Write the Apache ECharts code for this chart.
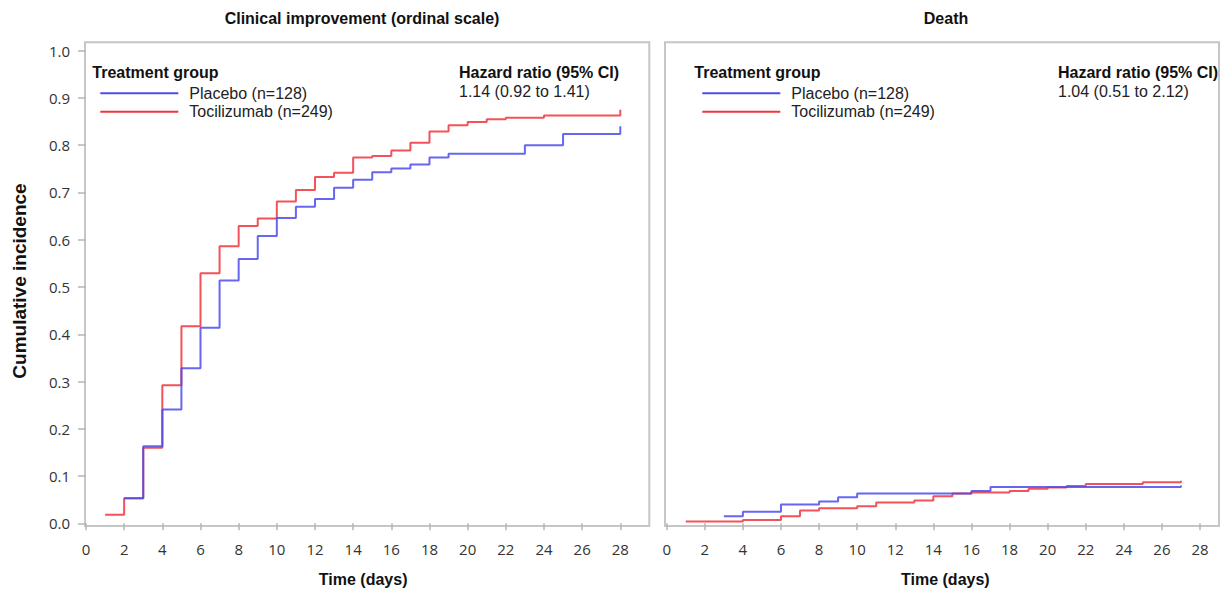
<!DOCTYPE html>
<html>
<head>
<meta charset="utf-8">
<script src="https://cdn.jsdelivr.net/npm/echarts@6/dist/echarts.min.js"></script>
<style>
html,body{margin:0;padding:0;background:#fff;}
#chart{width:1221px;height:593px;}
</style>
</head>
<body>
<div id="chart"></div>
<script>
// ---- data ----
const xTicks = [0,2,4,6,8,10,12,14,16,18,20,22,24,26,28];
const yTicks = [0,0.1,0.2,0.3,0.4,0.5,0.6,0.7,0.8,0.9,1.0];

const groupNames = ['Placebo (n=128)', 'Tocilizumab (n=249)'];

// Clinical improvement (ordinal scale)
const clinPlaceboDays = [2,3,4,5,6,7,8,9,10,11,12,13,14,15,16,17,18,19,23,25,28,28];
const clinPlaceboVals = [0.053,0.163,0.241,0.328,0.414,0.514,0.559,0.608,0.646,0.670,0.686,0.710,0.727,0.743,0.751,0.759,0.774,0.782,0.800,0.824,0.824,0.840];
const clinTociDays = [1,2,3,4,5,6,7,8,9,10,11,12,13,14,15,16,17,18,19,20,21,22,24,28,28];
const clinTociVals = [0.018,0.053,0.160,0.292,0.417,0.529,0.586,0.629,0.645,0.681,0.705,0.733,0.742,0.774,0.777,0.789,0.805,0.829,0.842,0.849,0.855,0.858,0.863,0.863,0.875];

// Death
const deathPlaceboDays = [3,4,6,8,9,10,16,17,27,27];
const deathPlaceboVals = [0.015,0.0245,0.040,0.046,0.055,0.063,0.0685,0.077,0.077,0.080];
const deathTociDays = [1,4,6,7,8,10,11,13,14,15,16,18,19,20,21,22,25,27,27];
const deathTociVals = [0.004,0.007,0.015,0.027,0.032,0.036,0.044,0.048,0.057,0.063,0.065,0.0685,0.073,0.0755,0.079,0.083,0.087,0.087,0.090];

const panelTitles = ['Clinical improvement (ordinal scale)', 'Death'];
const hazardHeader = 'Hazard ratio (95% CI)';
const hazardValues = ['1.14 (0.92 to 1.41)', '1.04 (0.51 to 2.12)'];
const legendHeader = 'Treatment group';
const xName = 'Time (days)';
const yName = 'Cumulative incidence';

// ---- styles ----
const BLUE = '#4b4bee';
const RED = '#f0343c';
const FRAME = '#c6c6c6';
const SANS = '"Liberation Sans", Arial, sans-serif';
const TICKFONT = '"Open Sans", "DejaVu Sans", sans-serif';

function pairs(xs, ys){ return xs.map((x,i)=>[x, ys[i]]); }

const chart = echarts.init(document.getElementById('chart'), null, {renderer:'svg'});

function xAxisFor(gi, shift){
  return {
    type:'value', gridIndex:gi, min:xTicks[0], max:xTicks[xTicks.length-1], interval:2,
    offset:2.7,
    axisLine:{show:false},
    axisTick:{show:true, length:7, lineStyle:{color:'#b4b4b4', width:1.5}},
    axisLabel:{fontFamily:TICKFONT, fontSize:15, color:'#333', margin:15},
    splitLine:{show:false},
    name:xName, nameLocation:'middle', nameGap:45,
    nameTextStyle:{fontFamily:SANS, fontSize:16, fontWeight:'bold', color:'#111',
                   padding:[0,0,0,shift]}
  };
}

function lineSeries(name, color, xi, yi, data, z){
  return {
    type:'line', name:name, xAxisIndex:xi, yAxisIndex:yi, data:data,
    step:'end', showSymbol:false, symbol:'none', color:color, z:z,
    lineStyle:{color:color, width:2, opacity:0.85},
    emphasis:{disabled:true}, animation:false
  };
}

function legendFor(left){
  return {
    orient:'vertical', left:left, top:85.3, icon:'rect', padding:0,
    itemWidth:78, itemHeight:2, itemGap:2.4,
    textStyle:{fontFamily:SANS, fontSize:16, color:'#222', lineHeight:16, padding:[0,0,0,6]},
    data:groupNames.map(n=>({name:n})),
    selectedMode:false
  };
}

function txt(text, x, y, opts){
  return {
    type:'text', x:x, y:y, silent:true,
    style:Object.assign({
      text:text, fill:'#111',
      font: (opts && opts.bold ? 'bold ' : '') + '16px ' + SANS,
      align:(opts && opts.align) || 'left', verticalAlign:'middle'
    }, opts && opts.extra)
  };
}

const option = {
  animation:false,
  backgroundColor:'#fff',
  grid:[
    {left:86, right:600.7, top:50.7, bottom:69.7},
    {left:666.7, right:21, top:50.7, bottom:69.7}
  ],
  xAxis:[xAxisFor(0, 20), xAxisFor(1, 24)],
  yAxis:[
    {type:'value', gridIndex:0, min:yTicks[0], max:yTicks[yTicks.length-1], interval:0.1,
     offset:1,
     axisLine:{show:false},
     axisTick:{show:true, length:8, lineStyle:{color:'#b4b4b4', width:1.5}},
     axisLabel:{fontFamily:TICKFONT, fontSize:15, color:'#333', margin:15,
                formatter:v=>v.toFixed(1)},
     splitLine:{show:false},
     name:yName, nameLocation:'middle', nameGap:56, nameRotate:90,
     nameTextStyle:{fontFamily:SANS, fontSize:19, fontWeight:'bold', color:'#111',
                    padding:[0,0,0,12]}},
    {type:'value', gridIndex:1, min:yTicks[0], max:yTicks[yTicks.length-1], show:false,
     splitLine:{show:false}}
  ],
  legend:[legendFor(100.3), legendFor(702.3)],
  graphic:[
    {type:'rect', silent:true, z:-1, shape:{x:85, y:42.3, width:564.3, height:483.7},
     style:{fill:null, stroke:FRAME, lineWidth:2}},
    {type:'rect', silent:true, z:-1, shape:{x:665, y:42.3, width:554, height:483.7},
     style:{fill:null, stroke:FRAME, lineWidth:2}},
    txt(panelTitles[0], 362, 18, {bold:true, align:'center'}),
    txt(panelTitles[1], 946, 18, {bold:true, align:'center'}),
    txt(legendHeader, 92.3, 72.5, {bold:true}),
    txt(legendHeader, 694.3, 72.5, {bold:true}),
    txt(hazardHeader, 459, 72.5, {bold:true}),
    txt(hazardHeader, 1058, 72.5, {bold:true}),
    txt(hazardValues[0], 459, 91, {extra:{fill:'#222'}}),
    txt(hazardValues[1], 1058, 91, {extra:{fill:'#222'}})
  ],
  series:[
    lineSeries(groupNames[1], RED, 0, 0, pairs(clinTociDays, clinTociVals), 2),
    lineSeries(groupNames[0], BLUE, 0, 0, pairs(clinPlaceboDays, clinPlaceboVals), 3),
    lineSeries(groupNames[1], RED, 1, 1, pairs(deathTociDays, deathTociVals), 2),
    lineSeries(groupNames[0], BLUE, 1, 1, pairs(deathPlaceboDays, deathPlaceboVals), 3)
  ]
};
chart.setOption(option);
</script>
</body>
</html>
